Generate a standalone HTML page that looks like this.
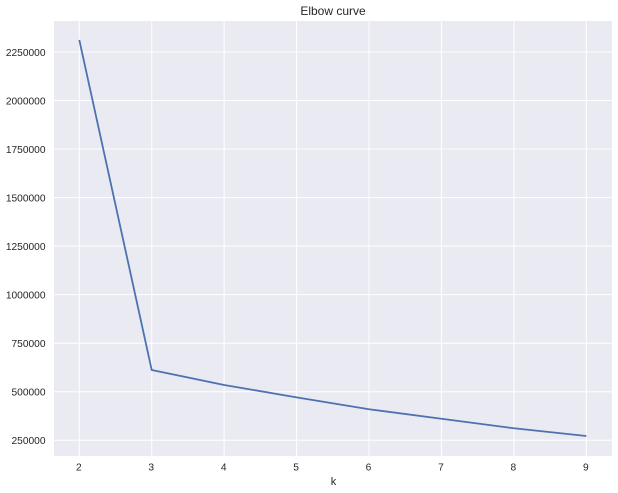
<!DOCTYPE html>
<html>
<head>
<meta charset="utf-8">
<title>Elbow curve</title>
<style>
html,body{margin:0;padding:0;background:#fff;}
svg{display:block;}
text{font-family:"Liberation Sans",Arial,sans-serif;fill:#262626;}
</style>
</head>
<body>
<svg id="chart" xmlns="http://www.w3.org/2000/svg" width="618" height="493" viewBox="0 0 618 493">
<rect x="0" y="0" width="618" height="493" fill="#ffffff"/>
<rect x="54" y="21" width="558" height="435" fill="#eaeaf2"/>
<g id="grid"></g>
<g id="ticks"></g>
<polyline id="line" fill="none" stroke="#4c72b0" stroke-width="1.8" stroke-linejoin="round" stroke-linecap="butt"/>
<text x="333" y="15" font-size="12" text-anchor="middle">Elbow curve</text>
<text x="333.500" y="485" font-size="11" text-anchor="middle">k</text>
</svg>
<script>
const kValues = [2, 3, 4, 5, 6, 7, 8, 9];
const distortion = [2312000, 612000, 535000, 471000, 410000, 361000, 312000, 272000];
const yTicks = [250000, 500000, 750000, 1000000, 1250000, 1500000, 1750000, 2000000, 2250000];

const NS = 'http://www.w3.org/2000/svg';
function xScale(k) { return 79.3 + (k - 2) * 72.43; }
function yScale(v) { return 440.3 - (v - 250000) * (48.54 / 250000); }

const grid = document.getElementById('grid');
const ticks = document.getElementById('ticks');

kValues.forEach(function (k) {
  const gl = document.createElementNS(NS, 'line');
  
  
  gl.setAttribute('x1', xScale(k));
  gl.setAttribute('x2', xScale(k));
  gl.setAttribute('y1', 21);
  gl.setAttribute('y2', 456);
  gl.setAttribute('stroke', '#ffffff');
  gl.setAttribute('stroke-width', '1');
  grid.appendChild(gl);

  const t = document.createElementNS(NS, 'text');
  
  
  t.setAttribute('x', xScale(k) - 0.5);
  t.setAttribute('y', 470.500);
  t.setAttribute('font-size', '10.2');
  t.setAttribute('text-anchor', 'middle');
  t.textContent = k;
  ticks.appendChild(t);
});

yTicks.forEach(function (v) {
  const gl = document.createElementNS(NS, 'line');
  
  
  gl.setAttribute('x1', 54);
  gl.setAttribute('x2', 612);
  gl.setAttribute('y1', yScale(v));
  gl.setAttribute('y2', yScale(v));
  gl.setAttribute('stroke', '#ffffff');
  gl.setAttribute('stroke-width', '1');
  grid.appendChild(gl);

  const t = document.createElementNS(NS, 'text');
  
  
  t.setAttribute('x', 45.500);
  t.setAttribute('y', yScale(v) + 3.8);
  t.setAttribute('font-size', '10.2');
  t.setAttribute('text-anchor', 'end');
  t.textContent = v;
  ticks.appendChild(t);
});

document.getElementById('line').setAttribute('points', kValues.map(function (k, i) {
  return xScale(k) + ',' + yScale(distortion[i]);
}).join(' '));
</script>
</body>
</html>
